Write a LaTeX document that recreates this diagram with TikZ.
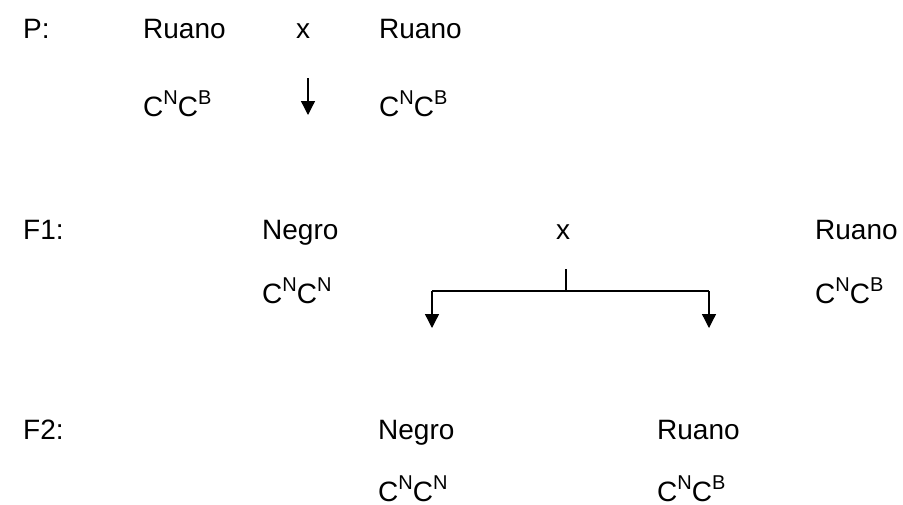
\documentclass[tikz,border=0pt]{standalone}
\usepackage{fontspec}
\setmainfont{Liberation Sans}
\usetikzlibrary{arrows.meta}
\newcommand\supx[1]{\raisebox{12pt}{\fontsize{20}{20}\selectfont #1}}
\begin{document}
\begin{tikzpicture}[x=1pt,y=-1pt,
  lbl/.style={anchor=base west,inner sep=0pt,font=\fontsize{28}{34}\selectfont},
  lblc/.style={anchor=base,inner sep=0pt,font=\fontsize{28}{34}\selectfont},
  conn/.style={line width=1.3pt},
  arr/.style={conn,-{Triangle[width=14pt,length=14pt]}}]
\useasboundingbox (0,0) rectangle (903,504);
% row P
\node[lbl] (pl) at (23,38) {P:};
\node[lbl] (p1) at (143,38) {Ruano};
\node[lblc] (px) at (303,38) {x};
\node[lbl] (p2) at (379,38) {Ruano};
\node[lbl] (p1g) at (143,116) {C\supx{N}C\supx{B}};
\node[lbl] (p2g) at (379,116) {C\supx{N}C\supx{B}};
\coordinate (pa) at (308,78);
\coordinate (pb) at (308,115);
\draw[arr] (pa) -- (pb);
% row F1
\node[lbl] (f1l) at (23,239) {F1:};
\node[lbl] (f1a) at (262,239) {Negro};
\node[lblc] (f1x) at (563,239) {x};
\node[lbl] (f1b) at (815,239) {Ruano};
\node[lbl] (f1ag) at (262,303) {C\supx{N}C\supx{N}};
\node[lbl] (f1bg) at (815,303) {C\supx{N}C\supx{B}};
\coordinate (bt) at (566,269);
\coordinate (bm) at (566,291);
\coordinate (bl) at (432,291);
\coordinate (br) at (709,291);
\coordinate (blt) at (432,328);
\coordinate (brt) at (709,328);
\draw[conn] (bt) -- (bm);
\draw[conn] (bl) -- (br);
\draw[arr] (bl) -- (blt);
\draw[arr] (br) -- (brt);
% row F2
\node[lbl] (f2l) at (23,439) {F2:};
\node[lbl] (f2a) at (378,439) {Negro};
\node[lbl] (f2b) at (657,439) {Ruano};
\node[lbl] (f2ag) at (378,501) {C\supx{N}C\supx{N}};
\node[lbl] (f2bg) at (657,501) {C\supx{N}C\supx{B}};
\end{tikzpicture}
\end{document}
